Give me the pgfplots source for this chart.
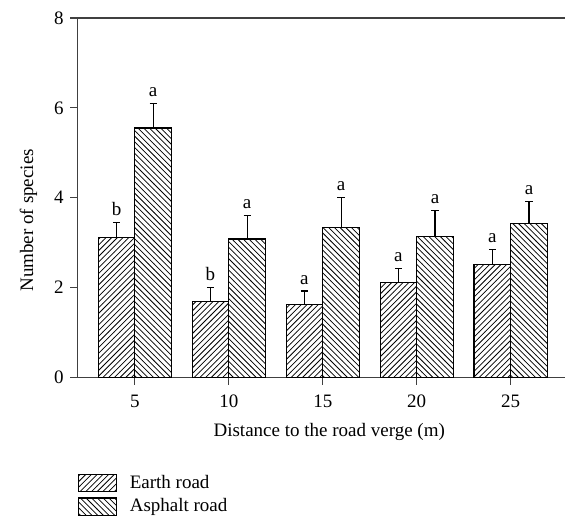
\documentclass[border=0pt]{standalone}
\usepackage{fontspec}
\setmainfont{Liberation Serif}
\usepackage{pgfplots}
\usepackage{pgfplotstable}
\pgfplotsset{compat=1.18}
\usetikzlibrary{patterns,calc}

\pgfplotstableread{
x y err lab
0 3.11 0.34 b
1 1.69 0.30 b
2 1.62 0.30 a
3 2.11 0.31 a
4 2.51 0.33 a
}\earth

\pgfplotstableread{
x y err lab
0 5.55 0.55 a
1 3.08 0.52 a
2 3.33 0.67 a
3 3.13 0.59 a
4 3.42 0.49 a
}\asphalt

\pgfplotsset{
    errstyle/.style={forget plot, draw=none, mark=none,
        error bars/y dir=plus, error bars/y explicit,
        error bars/error bar style={draw=black, line width=0.6pt},
        error bars/error mark options={draw=black, line width=0.6pt, mark size=1.9pt, rotate=90}},
    labstyle/.style={only marks, mark=none, forget plot, nodes near coords,
        point meta=explicit symbolic},
}

\begin{document}
\begin{tikzpicture}
\begin{axis}[
    scale only axis,
    width=256.3pt, height=189pt,
    xmin=-0.606, xmax=4.578,
    ymin=0, ymax=8,
    ytick={0,2,4,6,8},
    xtick={0,1,2,3,4},
    xticklabels={5,10,15,20,25},
    axis x line*=box, axis y line*=left,
    xtick pos=bottom, ytick pos=left,
    tick align=outside,
    major tick length=4pt,
    axis line style={black!75, line width=0.6pt},
    tick style={black!75, line width=0.6pt},
    /pgf/number format/assume math mode=true,
    xticklabel style={yshift=-2pt},
    xlabel={Distance to the road verge (m)},
    ylabel={Number of species},
    xlabel style={at={(ticklabel cs:0.516)}, anchor=north, yshift=-1pt},
    ylabel style={at={(ticklabel cs:0.437)}, anchor=south, yshift=2pt},
    clip=false,
    legend style={at={(rel axis cs:0,0)}, anchor=north west, yshift=-49.2pt,
        draw=none, fill=none, inner sep=0pt, row sep=0pt,
        cells={anchor=west}},
    legend cell align=left,
    legend image code/.code={
        \draw[#1] (0pt,-4.5pt) rectangle (20pt,4.5pt);
        \path (24.5pt,0pt);
    },
]
% bars
\addplot[ybar, bar width=0.39, bar shift=-0.195, draw=black, line width=0.6pt,
    fill=white, postaction={pattern=north east lines}]
    table[x=x, y=y]{\earth};
\addlegendentry{Earth road}
\addplot[ybar, bar width=0.39, bar shift=0.195, draw=black, line width=0.6pt,
    fill=white, postaction={pattern=north west lines}]
    table[x=x, y=y]{\asphalt};
\addlegendentry{Asphalt road}

% error bars (upper only), placed at bar centres
\addplot[errstyle] table[x expr=\thisrow{x}-0.195, y=y, y error=err]{\earth};
\addplot[errstyle] table[x expr=\thisrow{x}+0.195, y=y, y error=err]{\asphalt};

% significance letters
\addplot[labstyle]
    table[x expr=\thisrow{x}-0.195, y expr=\thisrow{y}+\thisrow{err}, meta=lab]{\earth};
\addplot[labstyle]
    table[x expr=\thisrow{x}+0.195, y expr=\thisrow{y}+\thisrow{err}, meta=lab]{\asphalt};

\coordinate (sw) at (rel axis cs:0,0);
\coordinate (ne) at (rel axis cs:1,1);
\end{axis}
\pgfresetboundingbox
\path[use as bounding box] ($(sw)+(-41pt,-75.3pt)$) rectangle ($(ne)+(0,9.5pt)$);
\end{tikzpicture}
\end{document}
